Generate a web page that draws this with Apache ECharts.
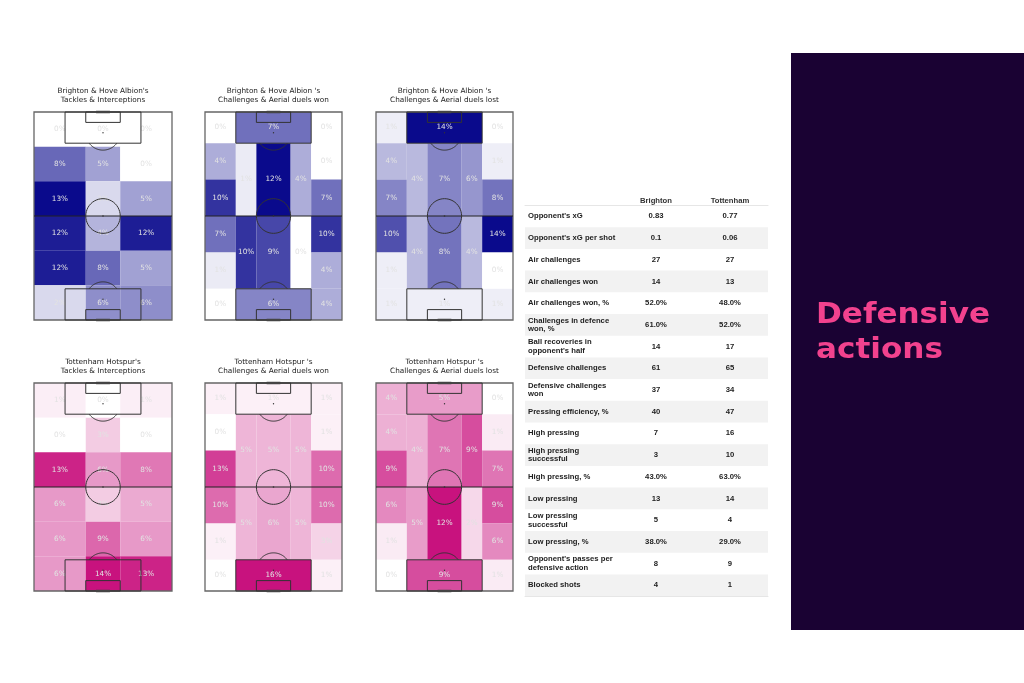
<!DOCTYPE html>
<html><head><meta charset="utf-8">
<script src="https://cdn.jsdelivr.net/npm/echarts@6/dist/echarts.min.js"></script>
<style>html,body{margin:0;padding:0;background:#fff}#c{width:1024px;height:683px}</style>
</head><body><div id="c"></div>
<script>
// ---------- DATA ----------
// Tackles & Interceptions: 6 rows (top -> bottom) x 3 columns (left, centre, right)
const tiRowEdges = [0, 20, 40, 60, 80, 100, 120];
const tiColEdges = [0, 30, 50, 80];
const brightonTI = [[0,0,0],[8,5,0],[13,2,5],[12,4,12],[12,8,5],[2,6,6]];
const tottenhamTI = [[1,0,1],[0,3,0],[13,6,8],[6,3,5],[6,9,6],[6,14,13]];

// Positional zones (x0,x1,y0,y1) in a 80x120 vertical pitch
const zones = [
  [0,18,0,18],[18,62,0,18],[62,80,0,18],
  [0,18,18,39],[0,18,39,60],
  [18,30,18,60],[30,50,18,60],[50,62,18,60],
  [62,80,18,39],[62,80,39,60],
  [0,18,60,81],[0,18,81,102],
  [18,30,60,102],[30,50,60,102],[50,62,60,102],
  [62,80,60,81],[62,80,81,102],
  [0,18,102,120],[18,62,102,120],[62,80,102,120]
];
const brightonDuelsWon  = [0,7,0, 4,10, 1,12,4, 0,7, 7,1, 10,9,0, 10,4, 0,6,4];
const brightonDuelsLost = [1,14,0, 4,7, 4,7,6, 1,8, 10,1, 4,8,4, 14,0, 1,1,1];
const tottenhamDuelsWon  = [1,1,1, 0,13, 5,5,5, 1,10, 10,1, 5,6,5, 10,3, 0,16,1];
const tottenhamDuelsLost = [4,5,0, 4,9, 4,7,9, 1,7, 6,1, 5,12,2, 9,6, 0,9,1];

const pitchTitles = [
  "Brighton & Hove Albion's\nTackles & Interceptions",
  "Brighton & Hove Albion 's\nChallenges & Aerial duels won",
  "Brighton & Hove Albion 's\nChallenges & Aerial duels lost",
  "Tottenham Hotspur's\nTackles & Interceptions",
  "Tottenham Hotspur 's\nChallenges & Aerial duels won",
  "Tottenham Hotspur 's\nChallenges & Aerial duels lost"
];

const teams = ['Brighton', 'Tottenham'];
const metrics = [
  "Opponent's xG", "Opponent's xG per shot", "Air challenges", "Air challenges won",
  "Air challenges won, %", "Challenges in defence\nwon, %", "Ball recoveries in\nopponent's half",
  "Defensive challenges", "Defensive challenges\nwon", "Pressing efficiency, %", "High pressing",
  "High pressing\nsuccessful", "High pressing, %", "Low pressing", "Low pressing\nsuccessful",
  "Low pressing, %", "Opponent's passes per\ndefensive action", "Blocked shots"
];
const brightonStats = ['0.83','0.1','27','14','52.0%','61.0%','14','61','37','40','7','3','43.0%','13','5','38.0%','8','4'];
const tottenhamStats = ['0.77','0.06','27','13','48.0%','52.0%','17','65','34','47','16','10','63.0%','14','4','29.0%','9','1'];
const panelTitle = ['Defensive', 'actions'];

// ---------- BUILD ----------
function tiCells(m) {
  const out = [];
  m.forEach((row, r) => row.forEach((v, c) => out.push([tiColEdges[c], tiColEdges[c+1], tiRowEdges[r], tiRowEdges[r+1], v])));
  return out;
}
function zoneCells(vals) { return zones.map((z, i) => [z[0], z[1], z[2], z[3], vals[i]]); }

const pitches = [
  { cells: tiCells(brightonTI), color: '#0a0a8c' },
  { cells: zoneCells(brightonDuelsWon), color: '#0a0a8c' },
  { cells: zoneCells(brightonDuelsLost), color: '#0a0a8c' },
  { cells: tiCells(tottenhamTI), color: '#c8127e' },
  { cells: zoneCells(tottenhamDuelsWon), color: '#c8127e' },
  { cells: zoneCells(tottenhamDuelsLost), color: '#c8127e' }
];
const pitchBoxes = [
  {left:34, top:112, width:138, height:208},
  {left:205, top:112, width:137, height:208},
  {left:376, top:112, width:137, height:208},
  {left:34, top:383, width:138, height:208},
  {left:205, top:383, width:137, height:208},
  {left:376, top:383, width:137, height:208}
];

function renderHeat(params, api) {
  const p0 = api.coord([api.value(0), api.value(2)]);
  const p1 = api.coord([api.value(1), api.value(3)]);
  const x = Math.min(p0[0], p1[0]), y = Math.min(p0[1], p1[1]);
  const w = Math.abs(p1[0] - p0[0]), h = Math.abs(p1[1] - p0[1]);
  return { type: 'group', children: [
    { type: 'rect', shape: { x: x, y: y, width: w, height: h }, style: { fill: api.visual('color') } },
    { type: 'text', style: { text: api.value(4) + '%', x: x + w / 2, y: y + h / 2, align: 'center', verticalAlign: 'middle',
      fill: '#e2e2e2', font: '7.3px "DejaVu Sans"' } }
  ]};
}

function polyCircle(api, cx, cy, r, a0, a1) {
  const pts = [];
  const n = 48;
  for (let i = 0; i <= n; i++) {
    const a = a0 + (a1 - a0) * i / n;
    pts.push(api.coord([cx + r * Math.cos(a), cy + r * Math.sin(a)]));
  }
  return pts;
}
function renderPitch(params, api) {
  const ls = { stroke: '#333', lineWidth: 1, fill: null };
  const rect = (x0, y0, x1, y1, st) => {
    const a = api.coord([x0, y0]), b = api.coord([x1, y1]);
    return { type: 'rect', shape: { x: Math.min(a[0], b[0]), y: Math.min(a[1], b[1]), width: Math.abs(b[0]-a[0]), height: Math.abs(b[1]-a[1]) }, style: st || ls };
  };
  const line = (x0, y0, x1, y1, st) => {
    const a = api.coord([x0, y0]), b = api.coord([x1, y1]);
    return { type: 'line', shape: { x1: a[0], y1: a[1], x2: b[0], y2: b[1] }, style: st || ls };
  };
  const dot = (x, y, r) => { const p = api.coord([x, y]); return { type: 'circle', shape: { cx: p[0], cy: p[1], r: r }, style: { fill: '#333' } }; };
  const arcA = Math.asin(0.6);
  return { type: 'group', children: [
    rect(0, 0, 80, 120, { stroke: '#666', lineWidth: 1.3, fill: null }),
    line(0, 60, 80, 60, { stroke: '#222', lineWidth: 1 }),
    { type: 'polyline', shape: { points: polyCircle(api, 40, 60, 10, 0, Math.PI * 2) }, style: ls },
    dot(40, 60, 0.8),
    rect(18, 0, 62, 18), rect(18, 102, 62, 120),
    rect(30, 0, 50, 6), rect(30, 114, 50, 120),
    dot(40, 12, 0.7), dot(40, 108, 0.7),
    { type: 'polyline', shape: { points: polyCircle(api, 40, 12, 10, arcA, Math.PI - arcA) }, style: ls },
    { type: 'polyline', shape: { points: polyCircle(api, 40, 108, 10, Math.PI + arcA, 2 * Math.PI - arcA) }, style: ls },
    line(36, 0, 44, 0, { stroke: '#444', lineWidth: 2.5 }),
    line(36, 120, 44, 120, { stroke: '#444', lineWidth: 2.5 })
  ]};
}

const grid = [], xAxis = [], yAxis = [], series = [], visualMap = [], graphic = [];
pitches.forEach((p, i) => {
  grid.push(Object.assign({}, pitchBoxes[i]));
  xAxis.push({ type: 'value', gridIndex: i, min: 0, max: 80, show: false });
  yAxis.push({ type: 'value', gridIndex: i, min: 0, max: 120, inverse: true, show: false });
  series.push({ type: 'custom', xAxisIndex: i, yAxisIndex: i, renderItem: renderHeat, data: p.cells,
    encode: { x: [0, 1], y: [2, 3] }, z: 2, silent: true });
  const maxV = Math.max.apply(null, p.cells.map(c => c[4]));
  visualMap.push({ type: 'continuous', show: false, seriesIndex: i, dimension: 4, min: 0, max: maxV,
    inRange: { color: ['#ffffff', p.color] } });
  const b = pitchBoxes[i];
  graphic.push({ type: 'text', x: b.left + b.width / 2, y: b.top - 16.5, style: { text: pitchTitles[i], align: 'center', verticalAlign: 'middle',
    font: '7.3px "DejaVu Sans"', lineHeight: 9, fill: '#222' } });
});
pitches.forEach((p, i) => {
  series.push({ type: 'custom', xAxisIndex: i, yAxisIndex: i, renderItem: renderPitch, data: [[0]], z: 3, silent: true });
});

// Table: background grid (index 6) and text grid (index 7)
grid.push({ left: 525, top: 205.5, width: 243, height: 390.6 });
grid.push({ left: 619, top: 205.5, width: 148, height: 390.6 });
xAxis.push({ type: 'value', gridIndex: 6, min: 0, max: 1, position: 'top', axisLine: { show: true, lineStyle: { color: '#e6e6e6', width: 1 } },
  axisLabel: { show: false }, axisTick: { show: false }, splitLine: { show: false } });
xAxis.push({ type: 'value', gridIndex: 6, min: 0, max: 1, position: 'bottom', axisLine: { show: true, lineStyle: { color: '#e6e6e6', width: 1 } },
  axisLabel: { show: false }, axisTick: { show: false }, splitLine: { show: false } });
xAxis.push({ type: 'category', gridIndex: 7, data: teams, position: 'top', axisLine: { show: false }, axisTick: { show: false },
  axisLabel: { margin: 0.5, fontSize: 7.7, fontWeight: 'bold', fontFamily: 'Liberation Sans', color: '#333' } });
yAxis.push({ type: 'category', gridIndex: 6, data: metrics, inverse: true, axisLine: { show: false }, axisTick: { show: false },
  axisLabel: { show: false }, splitLine: { show: false },
  splitArea: { show: true, areaStyle: { color: ['rgba(255,255,255,0)', '#f2f2f2'] } } });
yAxis.push({ type: 'category', gridIndex: 7, data: metrics, inverse: true, axisLine: { show: false }, axisTick: { show: false },
  axisLabel: { align: 'left', margin: 91, fontSize: 7.7, fontWeight: 'bold', fontFamily: 'Liberation Sans', color: '#222', lineHeight: 8.5 } });

const tableData = [];
metrics.forEach((m, r) => {
  tableData.push([0, r, brightonStats[r]]);
  tableData.push([1, r, tottenhamStats[r]]);
});
series.push({ type: 'custom', xAxisIndex: 8, yAxisIndex: 7, data: tableData, z: 5, silent: true,
  renderItem: function (params, api) {
    const p = api.coord([api.value(0), api.value(1)]);
    return { type: 'text', style: { text: tableData[params.dataIndex][2], x: p[0], y: p[1], align: 'center', verticalAlign: 'middle',
      font: 'bold 7.7px "Liberation Sans"', fill: '#222' } };
  } });

// Right panel
graphic.push({ type: 'rect', shape: { x: 791, y: 53, width: 233, height: 577 }, style: { fill: '#1a0233' }, z: 0 });
graphic.push({ type: 'text', x: 816, y: 316, scaleX: 1.11, style: { text: panelTitle[0], align: 'left', verticalAlign: 'middle', font: 'bold 28px "DejaVu Sans"', fill: '#f2428e' }, z: 1 });
graphic.push({ type: 'text', x: 816, y: 351, scaleX: 1.11, style: { text: panelTitle[1], align: 'left', verticalAlign: 'middle', font: 'bold 28px "DejaVu Sans"', fill: '#f2428e' }, z: 1 });

const chart = echarts.init(document.getElementById('c'), null, { renderer: 'canvas' });
chart.setOption({ animation: false, backgroundColor: '#ffffff', grid, xAxis, yAxis, series, visualMap, graphic });
</script></body></html>
